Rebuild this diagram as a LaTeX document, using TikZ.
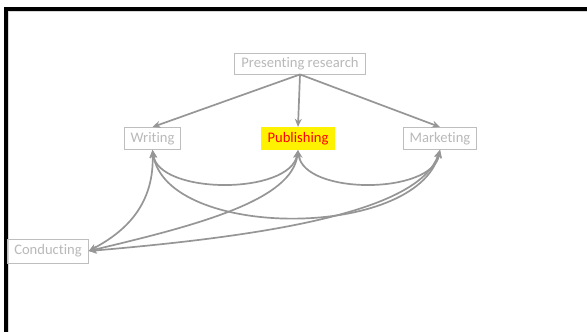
\documentclass[tikz,border=0pt]{standalone}
\usepackage{fontspec}
\setmainfont{Carlito}[RawFeature=-liga]
\usetikzlibrary{arrows.meta}
\definecolor{boxgray}{RGB}{190,190,190}
\definecolor{txtgray}{RGB}{185,185,185}
\definecolor{linegray}{RGB}{150,150,150}
\definecolor{shadegray}{RGB}{215,215,215}
\tikzset{
  box/.style={draw=boxgray, line width=0.9pt, text=txtgray, inner xsep=6.5pt, inner ysep=0pt,
    minimum height=22pt, font=\fontsize{14.6}{17}\selectfont},
  hibox/.style={fill=yellow, text=red, inner xsep=6.5pt, inner ysep=0pt,
    minimum height=23pt, font=\fontsize{14.6}{17}\selectfont},
  conn/.style={draw=linegray, line width=1.7pt, -{Stealth[length=8pt,width=7pt]}},
  bconn/.style={draw=linegray, line width=1.7pt, {Stealth[length=8pt,width=7pt]}-{Stealth[length=8pt,width=7pt]}},
  frameline/.style={draw=black, line width=3.6pt}
}
\begin{document}
\begin{tikzpicture}[x=1pt,y=-1pt]
\useasboundingbox (0,0) rectangle (587,332);
\fill[white] (0,0) rectangle (587,332);
\draw[frameline] (5.7,340) -- (5.7,9.2) -- (595,9.2);
\draw[shadegray, line width=0.8pt] (7.9,340) -- (7.9,11.3) -- (595,11.3);

\node[box, minimum height=21pt] (pres) at (300,63.5) {Presenting research};
\node[box] (writ) at (152.5,138.5) {Writing};
\node[hibox] (publ) at (298,138.5) {Publishing};
\node[box] (mark) at (440,138.5) {Marketing};
\node[box, minimum height=24pt] (cond) at (48,251) {Conducting};

\draw[conn] (pres.south) -- (writ.north);
\draw[conn] (pres.south) -- (publ.north);
\draw[conn] (pres.south) -- (mark.north);

\draw[bconn] (writ.south) .. controls +(6,45) and +(-8,45) .. (publ.south);
\draw[bconn] (publ.south) .. controls +(6,45) and +(-8,45) .. (mark.south);
\draw[bconn] (writ.south) .. controls +(14,90) and +(-24,90) .. (mark.south);
\draw[bconn] (writ.south) .. controls +(2,60) and +(30,-16) .. (cond.east);
\draw[bconn] (publ.south) .. controls +(-6,50) and +(110,-26) .. (cond.east);
\draw[bconn] (mark.south) .. controls +(-20,60) and +(190,-16) .. (cond.east);
\end{tikzpicture}
\end{document}
